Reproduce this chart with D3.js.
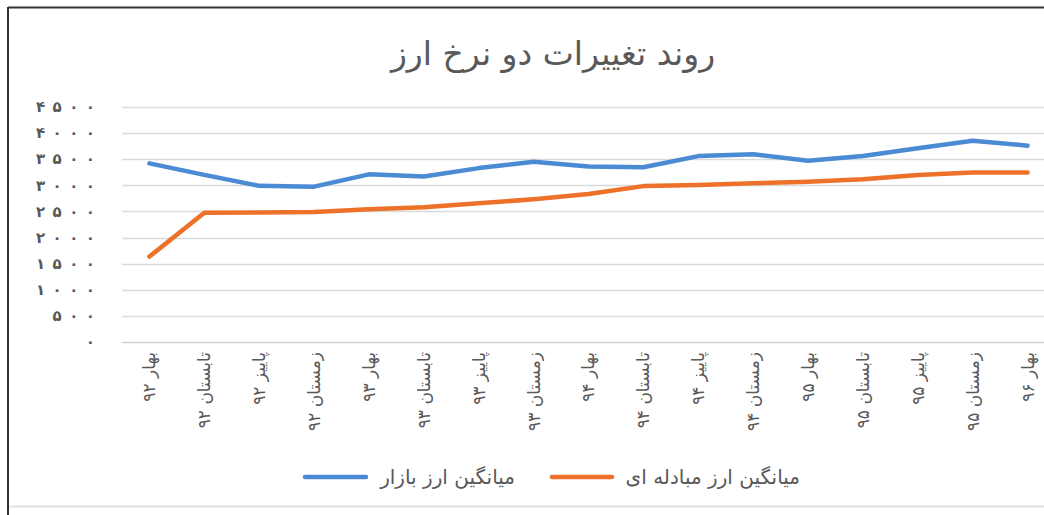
<!DOCTYPE html>
<html>
<head>
<meta charset="utf-8">
<script src="https://cdn.jsdelivr.net/npm/d3@7"></script>
<style>
  body { margin: 0; background: #fff; }
  svg { display: block; }
</style>
</head>
<body>
<div id="chart"></div>
<script>
// Categories (seasons, Persian calendar)
const categories = [
    'بهار ۹۲', 'تابستان ۹۲', 'پاییز ۹۲', 'زمستان ۹۲',
    'بهار ۹۳', 'تابستان ۹۳', 'پاییز ۹۳', 'زمستان ۹۳',
    'بهار ۹۴', 'تابستان ۹۴', 'پاییز ۹۴', 'زمستان ۹۴',
    'بهار ۹۵', 'تابستان ۹۵', 'پاییز ۹۵', 'زمستان ۹۵',
    'بهار ۹۶'
];

// Market rate average
const marketRate = [3420, 3200, 2990, 2975, 3210, 3170, 3330, 3450, 3360, 3345, 3560, 3595, 3470, 3560, 3710, 3855, 3760];

// Exchange (mobadele) rate average
const exchangeRate = [1635, 2476, 2480, 2490, 2540, 2580, 2655, 2735, 2835, 2985, 3005, 3040, 3070, 3115, 3200, 3245, 3245];

const yTicks = [0, 500, 1000, 1500, 2000, 2500, 3000, 3500, 4000, 4500];

const seriesNames = ['میانگین ارز بازار', 'میانگین ارز مبادله ای'];
const title = 'روند تغییرات دو نرخ ارز';

const W = 1044, H = 515;
const font = '"DejaVu Sans", sans-serif';
const textColor = '#595959';
const blue = '#4a8bd3';
const orange = '#ed7128';

// Persian digits, spread out like the original axis
const faDigits = s => String(s).split('').map(d => '۰۱۲۳۴۵۶۷۸۹'[d]).join('\u2002');

const svg = d3.select('#chart')
    .append('svg')
    .attr('width', W)
    .attr('height', H);

svg.append('rect').attr('width', W).attr('height', H).attr('fill', '#fff');

// Frame
svg.append('line').attr('x1', 8).attr('x2', W).attr('y1', 7.5).attr('y2', 7.5)
    .attr('stroke', '#333').attr('stroke-width', 2);
svg.append('line').attr('x1', 8).attr('x2', 8).attr('y1', 7).attr('y2', H)
    .attr('stroke', '#333').attr('stroke-width', 2);
svg.append('line').attr('x1', 9).attr('x2', W).attr('y1', 506.5).attr('y2', 506.5)
    .attr('stroke', '#e2e2e2').attr('stroke-width', 2);

// Scales
const x = d3.scaleBand()
    .domain(categories)
    .range([122, 1055])
    .padding(0);

const y = d3.scaleLinear()
    .domain([0, 4500])
    .range([342, 107]);

const cx = d => x(d) + x.bandwidth() / 2;

// Gridlines
svg.append('g')
    .selectAll('line')
    .data(yTicks)
    .enter().append('line')
    .attr('x1', 122)
    .attr('x2', W)
    .attr('y1', d => Math.round(y(d)) + 0.5)
    .attr('y2', d => Math.round(y(d)) + 0.5)
    .attr('stroke', d => d === 0 ? '#d0d0d0' : '#dadada')
    .attr('stroke-width', 1.3);

// Y axis labels
svg.append('g')
    .selectAll('text')
    .data(yTicks)
    .enter().append('text')
    .attr('x', 95)
    .attr('y', d => y(d))
    .attr('dy', '0.35em')
    .attr('text-anchor', 'end')
    .style('font-family', font)
    .style('font-size', '15px')
    .style('font-weight', 'bold')
    .style('fill', textColor)
    .text(d => faDigits(d));

// X axis labels (rotated)
svg.append('g')
    .selectAll('text')
    .data(categories)
    .enter().append('text')
    .attr('transform', d => `translate(${cx(d)},352) rotate(-90)`)
    .attr('dy', '0.35em')
    .attr('text-anchor', 'end')
    .style('font-family', font)
    .style('font-size', '17px')
    .style('fill', textColor)
    .text(d => d);

// Lines
const line = d3.line()
    .x((d, i) => cx(categories[i]))
    .y(d => y(d));

svg.append('path')
    .datum(marketRate)
    .attr('d', line)
    .attr('fill', 'none')
    .attr('stroke', blue)
    .attr('stroke-width', 4.5)
    .attr('stroke-linecap', 'round')
    .attr('stroke-linejoin', 'round');

svg.append('path')
    .datum(exchangeRate)
    .attr('d', line)
    .attr('fill', 'none')
    .attr('stroke', orange)
    .attr('stroke-width', 4.5)
    .attr('stroke-linecap', 'round')
    .attr('stroke-linejoin', 'round');

// Title
svg.append('text')
    .attr('x', 553)
    .attr('y', 65)
    .attr('text-anchor', 'middle')
    .style('font-family', font)
    .style('font-size', '33px')
    .style('fill', textColor)
    .text(title);

// Legend
const legendItems = [
    {name: seriesNames[0], color: blue, x1: 305, x2: 366, tx: 515},
    {name: seriesNames[1], color: orange, x1: 552, x2: 612, tx: 800}
];

const legend = svg.append('g');
legendItems.forEach(item => {
    legend.append('line')
        .attr('x1', item.x1).attr('x2', item.x2)
        .attr('y1', 477).attr('y2', 477)
        .attr('stroke', item.color)
        .attr('stroke-width', 4.5)
        .attr('stroke-linecap', 'round');
    legend.append('text')
        .attr('x', item.tx)
        .attr('y', 477)
        .attr('dy', '0.35em')
        .attr('text-anchor', 'end')
        .style('font-family', font)
        .style('font-size', '20px')
        .style('fill', textColor)
        .text(item.name);
});
</script>
</body>
</html>
